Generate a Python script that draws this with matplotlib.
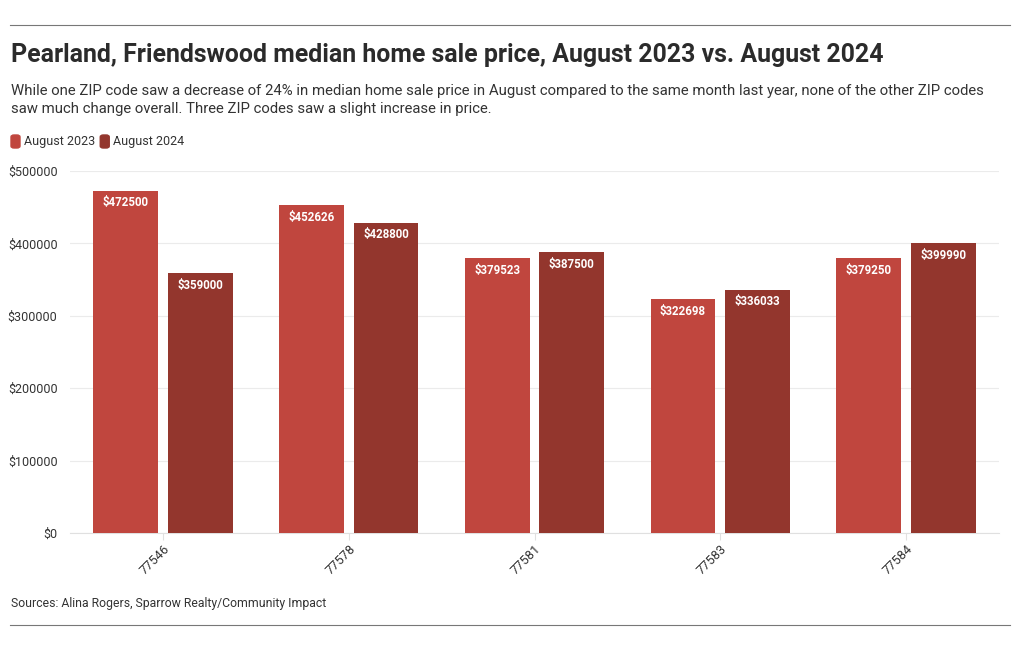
import matplotlib
matplotlib.use("Agg")
import matplotlib.pyplot as plt
from matplotlib.lines import Line2D
from matplotlib.patches import FancyBboxPatch
import numpy as np

zips = ["77546", "77578", "77581", "77583", "77584"]
aug2023 = [472500, 452626, 379523, 322698, 379250]
aug2024 = [359000, 428800, 387500, 336033, 399990]
series_names = ["August 2023", "August 2024"]
yticks = [0, 100000, 200000, 300000, 400000, 500000]

c23 = "#c0463e"
c24 = "#93362d"
txt = "#333333"
plt.rcParams['font.family'] = ['Roboto', 'DejaVu Sans']

fig = plt.figure(figsize=(10.2, 6.5), dpi=100)
W, H = 1020, 650
ax = fig.add_axes([70 / W, 1 - 533 / H, (999 - 70) / W, (533 - 171) / H])

x = np.arange(len(zips))
bw = 0.349
off = 0.201
b1 = ax.bar(x - off, aug2023, bw, color=c23, zorder=3)
b2 = ax.bar(x + off, aug2024, bw, color=c24, zorder=3)
for bars, vals in ((b1, aug2023), (b2, aug2024)):
    for r, v in zip(bars, vals):
        ax.annotate(f"${v}", (r.get_x() + r.get_width() / 2, v), xytext=(0, -4),
                    textcoords="offset points", ha="center", va="top",
                    color="white", fontsize=8.3, fontweight="bold")

ax.set_xlim(-0.5, len(zips) - 0.5)
ax.set_ylim(0, 500000)
ax.set_yticks(yticks)
ax.set_yticklabels([f"${v}" for v in yticks], color=txt, fontsize=9)
ax.set_xticks(x)
ax.set_xticklabels(zips, rotation=45, ha="right", rotation_mode="anchor", color=txt, fontsize=9.3)
ax.tick_params(axis="y", length=0, pad=9)
ax.tick_params(axis="x", length=5, color="#e0e0e0", pad=2)
ax.grid(axis="y", color="#ebebeb", linewidth=0.8, zorder=0)
for s in ("top", "right", "left"):
    ax.spines[s].set_visible(False)
ax.spines["bottom"].set_color("#e0e0e0")

fig.add_artist(Line2D([10 / W, 1010 / W], [1 - 25 / H] * 2, color="#777777", lw=0.8))
fig.add_artist(Line2D([10 / W, 1010 / W], [1 - 625 / H] * 2, color="#777777", lw=0.8))

fig.text(11 / W, 1 - 55 / H, "Pearland, Friendswood median home sale price, August 2023 vs. August 2024",
         fontsize=17.9, fontweight="bold", color="#2b2b2b", va="center")
fig.text(11 / W, 1 - 100 / H,
         "While one ZIP code saw a decrease of 24% in median home sale price in August compared to the same month last year, none of the other ZIP codes\n"
         "saw much change overall. Three ZIP codes saw a slight increase in price.",
         fontsize=10.7, color=txt, va="center", linespacing=1.35)

# legend
lx = 11
for name, col in zip(series_names, (c23, c24)):
    fig.add_artist(FancyBboxPatch((lx / W, 1 - 148 / H), 9 / W, 13 / H,
                                  boxstyle="round,pad=0,rounding_size=0.003",
                                  transform=fig.transFigure, color=col))
    t = fig.text((lx + 13) / W, 1 - 142 / H, name, fontsize=9, color=txt, va="center")
    fig.canvas.draw()
    bb = t.get_window_extent()
    lx = bb.x1 + 5

fig.text(11 / W, 1 - 603 / H, "Sources: Alina Rogers, Sparrow Realty/Community Impact",
         fontsize=8.85, color=txt, va="center")

fig.savefig("out.png", dpi=100)
